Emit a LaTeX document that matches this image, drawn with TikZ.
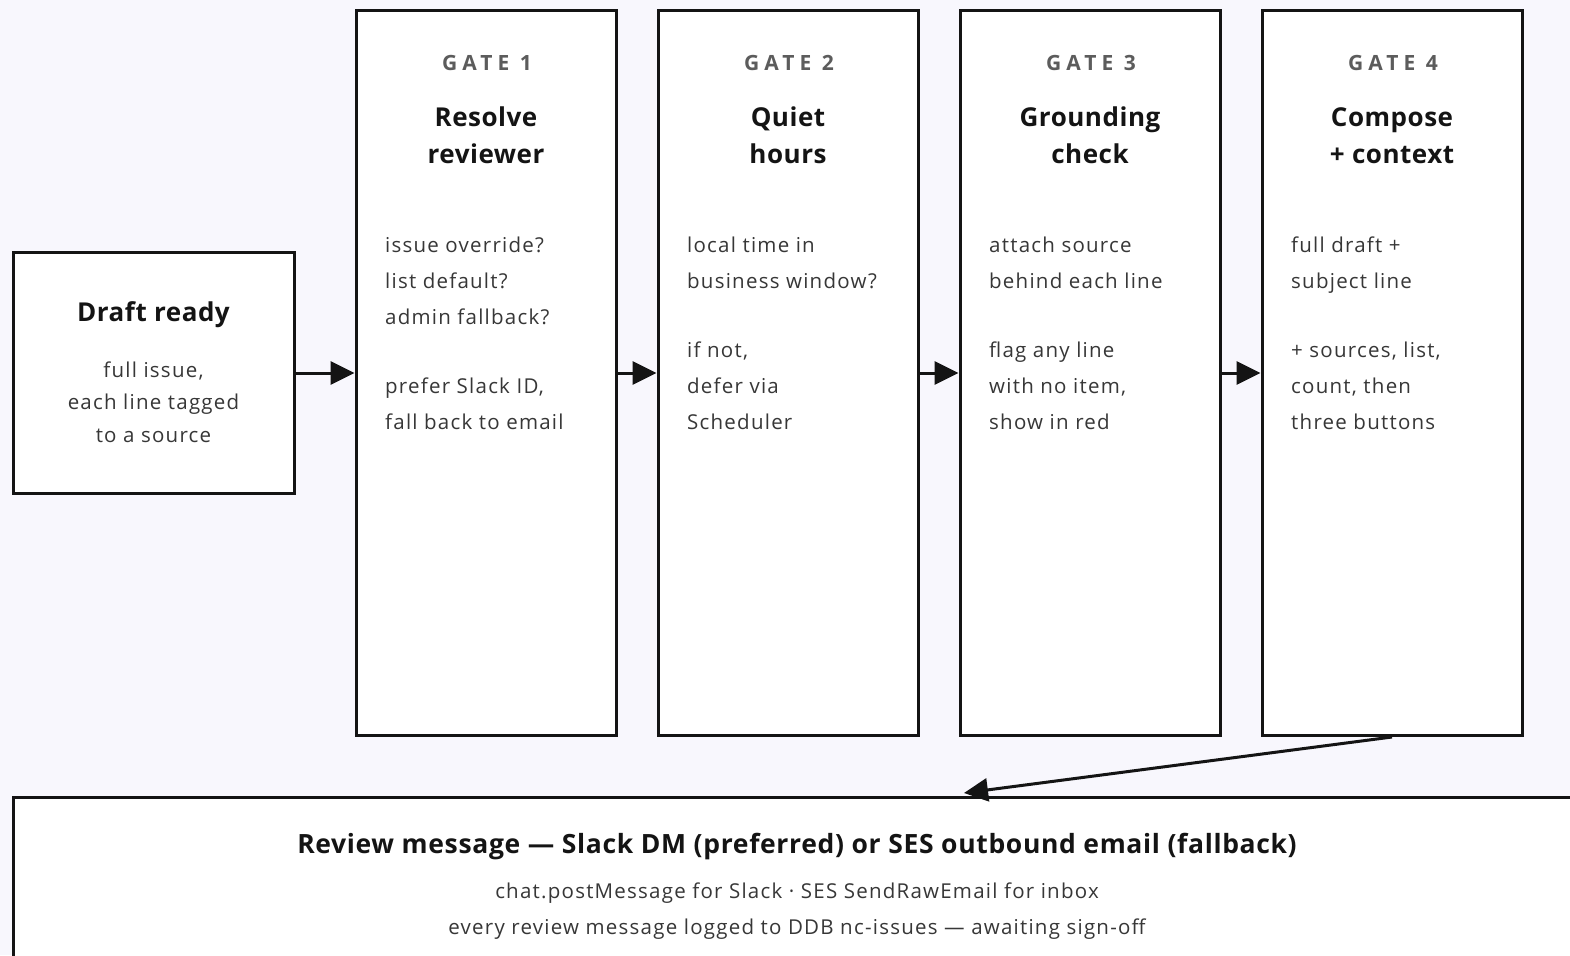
\documentclass[tikz,border=0pt]{standalone}
\usepackage{fontspec}
\setmainfont{Open Sans}
\newfontfamily\bodyfont[LetterSpace=6]{Open Sans}
\newfontfamily\gatefont[LetterSpace=24]{Open Sans}
\newfontfamily\titlefont[LetterSpace=2]{Open Sans}
\newfontfamily\headfont[LetterSpace=2.5]{Open Sans}
\usetikzlibrary{arrows.meta}

\definecolor{pagebg}{RGB}{248,247,253}
\definecolor{ink}{RGB}{20,20,20}
\definecolor{bodyink}{RGB}{55,55,55}
\definecolor{gateink}{RGB}{92,92,92}

\tikzset{
  box/.style={draw=ink, line width=3pt, fill=white, inner sep=0pt, rectangle},
  gatebox/.style={box, minimum width=260pt, minimum height=725pt},
  arr/.style={draw=ink, line width=3pt, -{Triangle[length=24pt,width=23pt]}},
  gatelbl/.style={anchor=base, inner sep=0pt, text=gateink,
    font=\gatefont\bfseries\fontsize{21}{24}\selectfont},
  ttl/.style={anchor=base, inner sep=0pt, text=ink,
    font=\titlefont\bfseries\fontsize{26}{30}\selectfont},
  headl/.style={ttl, font=\headfont\bfseries\fontsize{26.5}{30}\selectfont},
  bodyl/.style={anchor=base west, inner sep=0pt, text=bodyink,
    font=\bodyfont\fontsize{20.5}{24}\selectfont},
  bodyc/.style={bodyl, anchor=base},
}

\begin{document}
\begin{tikzpicture}[x=1pt,y=-1pt]
\useasboundingbox (0,0) rectangle (1570,955);
\fill[pagebg] (0,0) rectangle (1570,955);
\clip (0,0) rectangle (1570,955);

% input box
\node[box, minimum width=281pt, minimum height=241pt] (draft) at (153.5,373) {};
\node[ttl] (draftT) at (153.5,321) {Draft ready};
\node[bodyc] (draftA) at (153.5,377) {full issue,};
\node[bodyc] (draftB) at (153.5,409) {each line tagged};
\node[bodyc] (draftC) at (153.5,442) {to a source};

% the four gates
\node[gatebox] (g1) at (486,373) {};
\node[gatebox] (g2) at (788,373) {};
\node[gatebox] (g3) at (1090,373) {};
\node[gatebox] (g4) at (1392,373) {};

\node[gatelbl] (g1L) at (487,71) {GATE 1};
\node[ttl] (g1Ta) at (486,127) {Resolve};
\node[ttl] (g1Tb) at (486,163) {reviewer};
\node[bodyl] (g1a) at (385,252) {issue override?};
\node[bodyl] (g1b) at (385,288) {list default?};
\node[bodyl] (g1c) at (385,324) {admin fallback?};
\node[bodyl] (g1d) at (385,393) {prefer Slack ID,};
\node[bodyl] (g1e) at (385,429) {fall back to email};

\node[gatelbl] (g2L) at (789,71) {GATE 2};
\node[ttl] (g2Ta) at (788,127) {Quiet};
\node[ttl] (g2Tb) at (788,163) {hours};
\node[bodyl] (g2a) at (687,252) {local time in};
\node[bodyl] (g2b) at (687,288) {business window?};
\node[bodyl] (g2c) at (687,357) {if not,};
\node[bodyl] (g2d) at (687,393) {defer via};
\node[bodyl] (g2e) at (687,429) {Scheduler};

\node[gatelbl] (g3L) at (1091,71) {GATE 3};
\node[ttl] (g3Ta) at (1090,127) {Grounding};
\node[ttl] (g3Tb) at (1090,163) {check};
\node[bodyl] (g3a) at (989,252) {attach source};
\node[bodyl] (g3b) at (989,288) {behind each line};
\node[bodyl] (g3c) at (989,357) {flag any line};
\node[bodyl] (g3d) at (989,393) {with no item,};
\node[bodyl] (g3e) at (989,429) {show in red};

\node[gatelbl] (g4L) at (1393,71) {GATE 4};
\node[ttl] (g4Ta) at (1392,127) {Compose};
\node[ttl] (g4Tb) at (1392,163) {+ context};
\node[bodyl] (g4a) at (1291,252) {full draft +};
\node[bodyl] (g4b) at (1291,288) {subject line};
\node[bodyl] (g4c) at (1291,357) {+ sources, list,};
\node[bodyl] (g4d) at (1291,393) {count, then};
\node[bodyl] (g4e) at (1291,429) {three buttons};

% output box, running past the right and bottom edges
\node[box, anchor=north west, minimum width=1567pt, minimum height=260pt] (review) at (12,796) {};
\node[headl] (reviewT) at (797,853) {Review message — Slack DM (preferred) or SES outbound email (fallback)};
\node[bodyc] (reviewA) at (797,898) {chat.postMessage for Slack · SES SendRawEmail for inbox};
\node[bodyc] (reviewB) at (797,934) {every review message logged to DDB nc-issues — awaiting sign-off};

% connectors
\draw[arr] (draft.east) -- (g1.west);
\draw[arr] (g1.east) -- (g2.west);
\draw[arr] (g2.east) -- (g3.west);
\draw[arr] (g3.east) -- (g4.west);
\coordinate (reviewIn) at (964,793);
\draw[arr] (g4.south) -- (reviewIn);
\end{tikzpicture}
\end{document}
